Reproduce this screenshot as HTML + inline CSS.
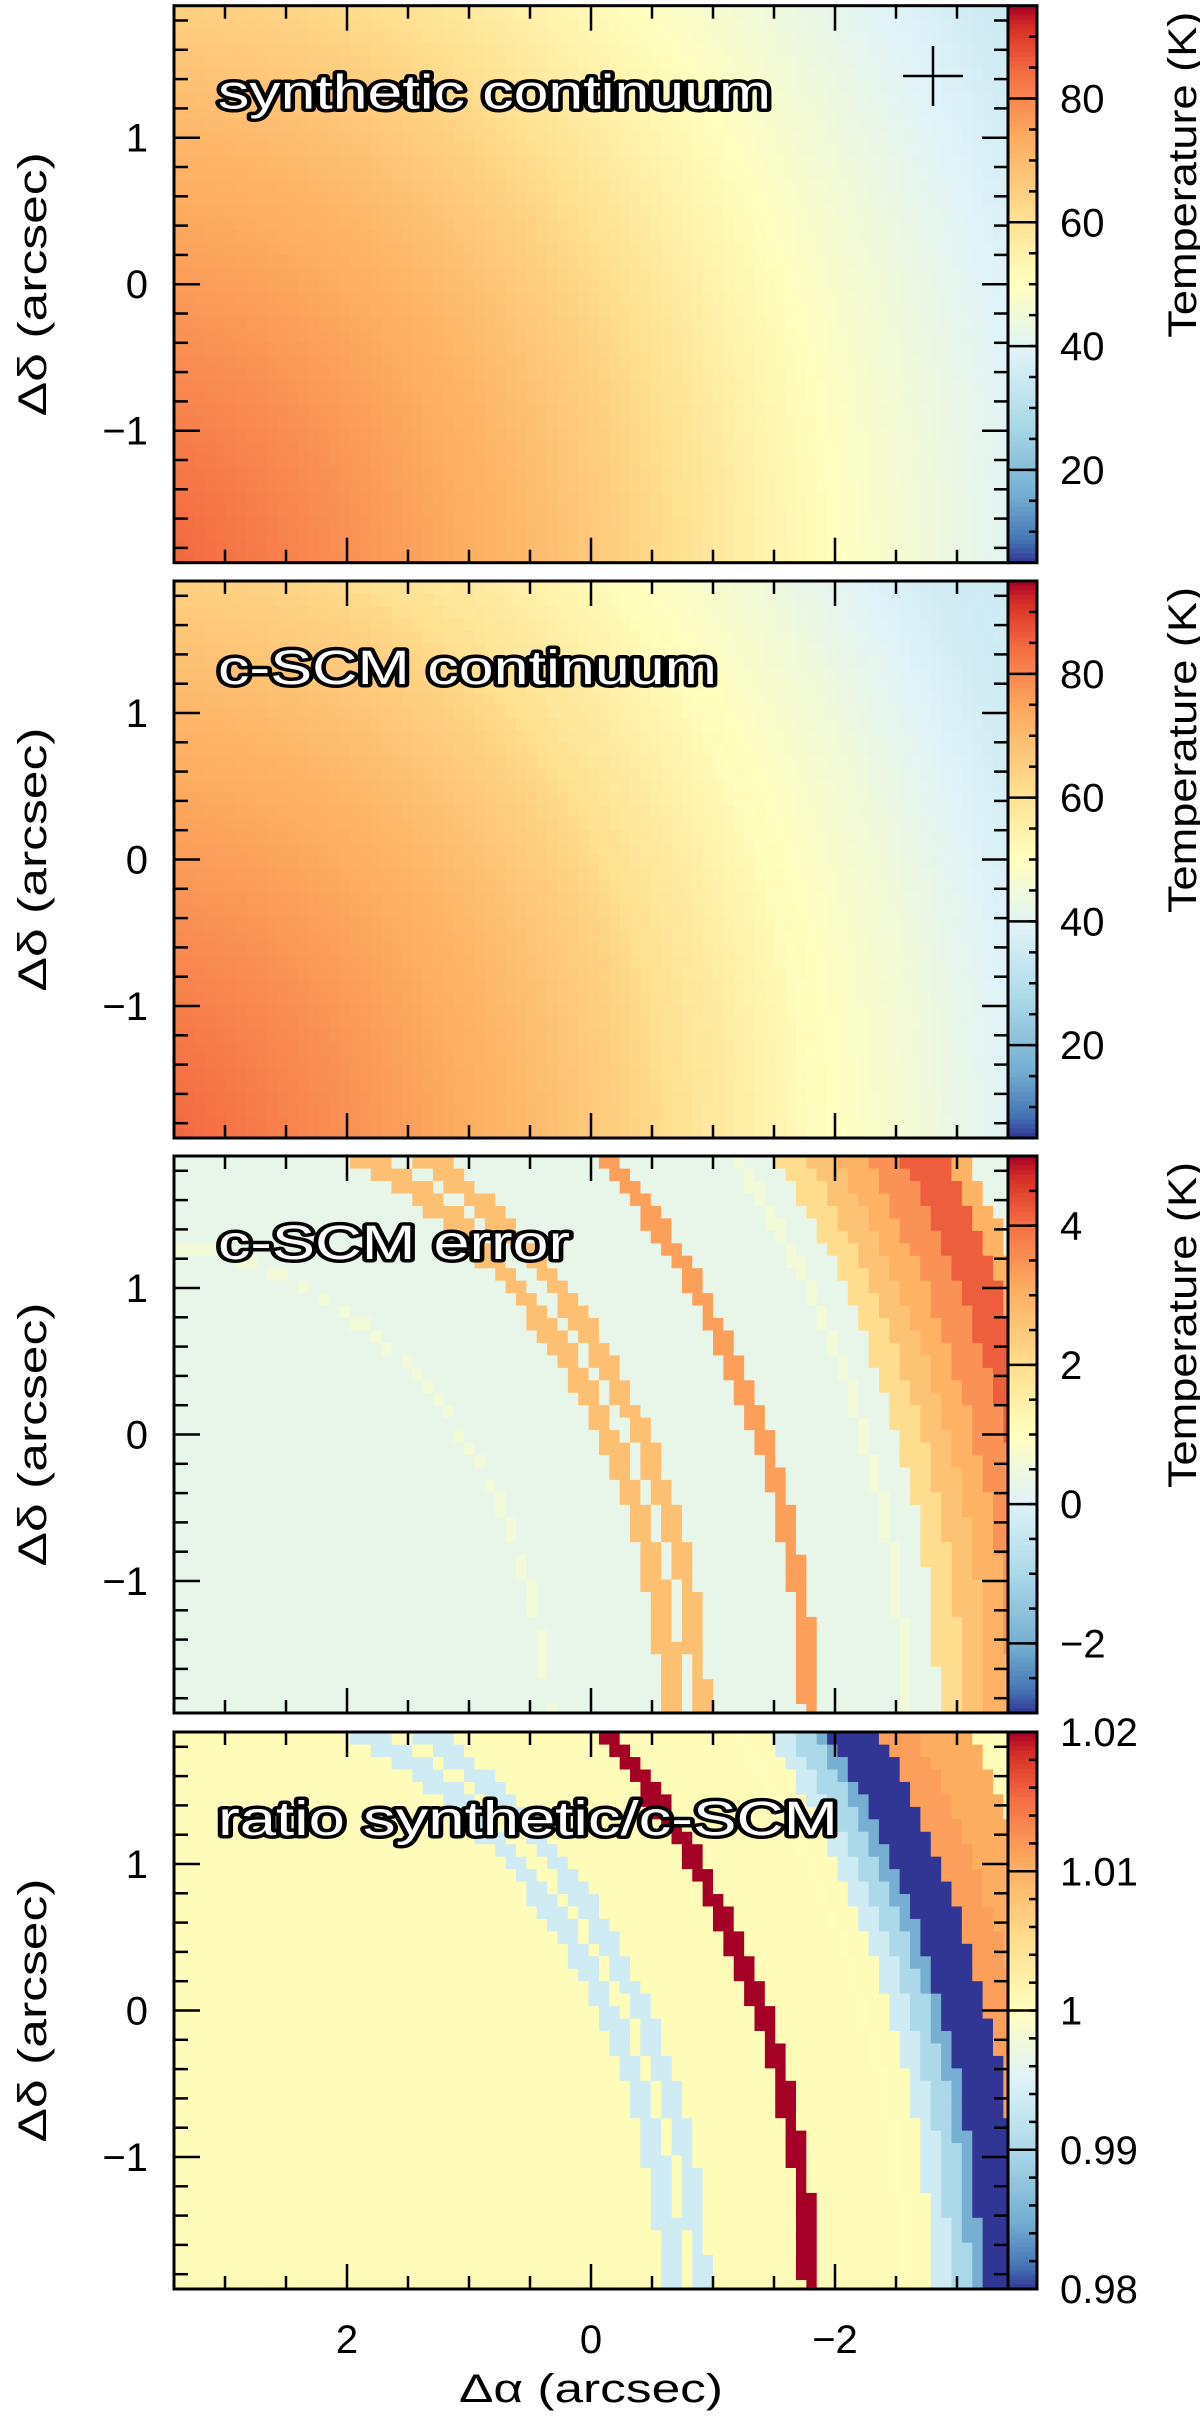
<!DOCTYPE html>
<html><head><meta charset="utf-8">
<style>
html,body{margin:0;padding:0;background:#fff;}
svg{display:block;font-family:"Liberation Sans",sans-serif;}
.tl{font-size:40px;fill:#000;}
.ttl{font-size:48px;fill:#fff;stroke:#000;stroke-width:7px;paint-order:stroke;stroke-linejoin:round;}
</style></head>
<body>
<svg id="fig" width="1200" height="2416" viewBox="0 0 1200 2416" xmlns="http://www.w3.org/2000/svg"></svg>
<script>
// ---------- data ----------
const srcCenter = [3.75, -2.1];
const profileR = [0, 1, 2, 3, 4, 5, 5.75, 6.5, 7.2, 8.3, 9];
const profileT = [87, 82, 77, 72, 65, 56, 50, 45, 40, 34, 32];
const errStart = [3.38, 4.33, 4.58, 5.48, 6.30, 6.60, 6.80, 7.00, 7.20, 7.45, 7.75];
const errEnd   = [3.44, 4.50, 4.73, 5.62, 6.38, 6.80, 7.00, 7.20, 7.45, 7.75, 7.92];
const errVal   = [0.6, 2.7, 2.7, 3.3, 0.6, 2.0, 2.6, 3.0, 3.5, 4.2, 3.0];
const errBg = 0.3;
const ratioStart = [4.33, 4.58, 5.48, 6.30, 6.55, 6.70, 6.85, 6.95, 7.30, 7.55];
const ratioEnd   = [4.50, 4.73, 5.62, 6.38, 6.70, 6.85, 6.95, 7.30, 7.55, 7.95];
const ratioVal   = [0.9935, 0.9935, 1.025, 1.0003, 0.9935, 0.990, 0.985, 0.975, 1.0115, 1.0105];
const ratioBg = 1.0005;
const panelTitles = ["synthetic continuum", "c-SCM continuum", "c-SCM error", "ratio synthetic/c-SCM"];
const cbMin = [5, 5, -3, 0.98];
const cbMax = [95, 95, 5, 1.02];
const cbTicks = [[20,40,60,80],[20,40,60,80],[-2,0,2,4],[0.98,0.99,1,1.01,1.02]];
const cbTickLabels = [["20","40","60","80"],["20","40","60","80"],["\u22122","0","2","4"],["0.98","0.99","1","1.01","1.02"]];
const cbMinorStep = [5, 5, 0.5, 0.002];
const xMajor = [2, 0, -2];
const xMajorLabels = ["2", "0", "\u22122"];
const yMajor = [1, 0, -1];
const yMajorLabels = ["1", "0", "\u22121"];

// ---------- layout ----------
const XMIN=-3.42, XMAX=3.42, YMIN=-1.9, YMAX=1.9;
const panelTops=[5.7,581,1156,1732];
const PX0=591, PXS=122, PYS=146.5, PH=557;
const PL=174, PR=1008, CBL=1008, CBR=1037;
const CELL=0.085;
const NS="http://www.w3.org/2000/svg";
const svg=document.getElementById('fig');
function X(a){return PX0-PXS*a;}
function Y(p,d){return panelTops[p]+PH/2-PYS*d;}
function el(tag,attrs,parent){const e=document.createElementNS(NS,tag);for(const k in attrs)e.setAttribute(k,attrs[k]);(parent||svg).appendChild(e);return e;}

const stops=[[0,[49,54,149]],[0.04,[69,117,180]],[0.12,[116,173,209]],[0.25,[171,217,233]],[0.38,[224,243,248]],[0.5,[255,255,191]],[0.62,[254,224,144]],[0.76,[253,174,97]],[0.88,[244,109,67]],[0.96,[215,48,39]],[1,[165,0,38]]];
function cmap(f){f=Math.max(0,Math.min(1,f));for(let i=1;i<stops.length;i++){if(f<=stops[i][0]){const a=stops[i-1],b=stops[i];const t=(f-a[0])/(b[0]-a[0]);const c=a[1].map((v,k)=>Math.round(v+(b[1][k]-v)*t));return `rgb(${c[0]},${c[1]},${c[2]})`;}}return 'rgb(165,0,38)';}
function interp(xs,ys,x){if(x<=xs[0])return ys[0];for(let i=1;i<xs.length;i++){if(x<=xs[i]){const t=(x-xs[i-1])/(xs[i]-xs[i-1]);return ys[i-1]+(ys[i]-ys[i-1])*t;}}return ys[ys.length-1];}
function band(st,en,vals,bg,r){for(let i=0;i<st.length;i++){if(r>=st[i]&&r<en[i])return vals[i];}return bg;}
function synth(r){return interp(profileR,profileT,r);}
function err(r){return band(errStart,errEnd,errVal,errBg,r);}
function valueAt(p,r){
  if(p===0)return synth(r);
  if(p===1)return synth(r)-0.3*(err(r)-errBg);
  if(p===2)return err(r);
  return band(ratioStart,ratioEnd,ratioVal,ratioBg,r);
}

const defs=el('defs',{});
for(let p=0;p<4;p++){
  const T=panelTops[p];
  const cp=el('clipPath',{id:'clip'+p},defs);
  el('rect',{x:PL,y:T,width:PR-PL,height:PH},cp);
  const g=el('g',{'clip-path':`url(#clip${p})`});
  
  
  const nx=Math.ceil((XMAX-XMIN)/CELL), ny=Math.ceil((YMAX-YMIN)/CELL);
  for(let j=0;j<ny;j++){
    const d=YMAX-(j+0.5)*CELL;
    for(let i=0;i<nx;i++){
      const a=XMAX-(i+0.5)*CELL;
      const r=Math.hypot(a-srcCenter[0],d-srcCenter[1]);
      const v=valueAt(p,r);
      const c=el('rect',{x:X(a+CELL/2).toFixed(2),y:Y(p,d+CELL/2).toFixed(2),width:(CELL*PXS+0.6).toFixed(2),height:(CELL*PYS+0.6).toFixed(2),fill:cmap((v-cbMin[p])/(cbMax[p]-cbMin[p]))},g);
      
      
    }
  }
  const tg=el('g',{stroke:'#000','stroke-width':2.5});
  
  
  for(let k=-6;k<=6;k++){
    const a=k*0.5; const x=X(a); const maj=(k%4===0);
    const L=maj?25:13;
    el('line',{x1:x,y1:T,x2:x,y2:T+L},tg);
    el('line',{x1:x,y1:T+PH,x2:x,y2:T+PH-L},tg);
  }
  for(let k=-9;k<=9;k++){
    const d=k*0.2; const y=Y(p,d); const maj=(k%5===0);
    const L=maj?26:14;
    el('line',{x1:PL,y1:y,x2:PL+L,y2:y},tg);
    el('line',{x1:PR,y1:y,x2:PR-L,y2:y},tg);
  }
  const fr=el('rect',{x:PL,y:T,width:PR-PL,height:PH,fill:'none',stroke:'#000','stroke-width':3});
  
  
  for(let k=0;k<yMajor.length;k++){
    const t=el('text',{x:148,y:Y(p,yMajor[k])+14,'text-anchor':'end',class:'tl'});
    t.textContent=yMajorLabels[k];
    
    
  }
  const yt=el('text',{x:0,y:0,'text-anchor':'middle',class:'tl',transform:`translate(46,${T+PH/2}) rotate(-90)`,textLength:264,lengthAdjust:'spacingAndGlyphs'});
  yt.textContent='\u0394\u03b4 (arcsec)';
  
  
  const tt=el('text',{x:218,y:T+103,class:'ttl',textLength:[553,499,352,620][p],lengthAdjust:'spacingAndGlyphs'});
  tt.textContent=panelTitles[p];
  
  
  const cg=el('g',{});
  
  
  const NSEG=120;
  for(let s=0;s<NSEG;s++){
    const f=1-(s+0.5)/NSEG;
    el('rect',{x:CBL,y:(T+s*PH/NSEG).toFixed(2),width:CBR-CBL,height:(PH/NSEG+0.6).toFixed(2),fill:cmap(f)},cg);
  }
  const cbY=v=>T+PH*(1-(v-cbMin[p])/(cbMax[p]-cbMin[p]));
  const step=cbMinorStep[p];
  for(let v=Math.ceil(cbMin[p]/step-1e-6)*step; v<=cbMax[p]+1e-9; v+=step){
    el('line',{x1:CBR,y1:cbY(v),x2:CBR-8,y2:cbY(v),stroke:'#000','stroke-width':2.5},cg);
  }
  for(let k=0;k<cbTicks[p].length;k++){
    const y=cbY(cbTicks[p][k]);
    el('line',{x1:CBL,y1:y,x2:CBR,y2:y,stroke:'#000','stroke-width':2.5},cg);
    const t=el('text',{x:1060,y:y+14,class:'tl'});
    t.textContent=cbTickLabels[p][k];
    
    
  }
  el('rect',{x:CBL,y:T,width:CBR-CBL,height:PH,fill:'none',stroke:'#000','stroke-width':3},cg);
  if(p<3){
    const ct=el('text',{x:0,y:0,'text-anchor':'end',class:'tl',transform:`translate(1196,${T+6}) rotate(-90)`,textLength:326,lengthAdjust:'spacingAndGlyphs'});
    ct.textContent='Temperature (K)';
    
    
  }
}
const cross=el('g',{stroke:'#000','stroke-width':2.5});


el('line',{x1:903,y1:76,x2:963,y2:76},cross);
el('line',{x1:933,y1:46,x2:933,y2:106},cross);
for(let k=0;k<xMajor.length;k++){
  const t=el('text',{x:X(xMajor[k]),y:2353,'text-anchor':'middle',class:'tl'});
  t.textContent=xMajorLabels[k];
  
  
}
const xt=el('text',{x:591,y:2402,'text-anchor':'middle',class:'tl',textLength:264,lengthAdjust:'spacingAndGlyphs'});
xt.textContent='\u0394\u03b1 (arcsec)';


</script>
</body></html>
